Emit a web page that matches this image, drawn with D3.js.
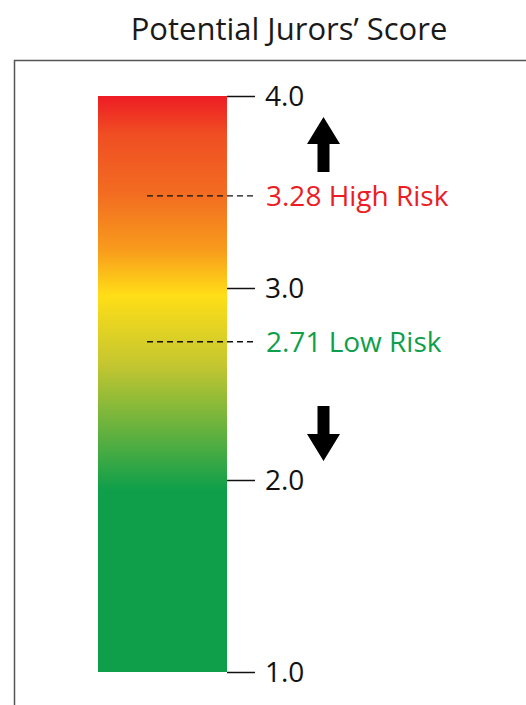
<!DOCTYPE html>
<html><head><meta charset="utf-8">
<script src="https://cdn.jsdelivr.net/npm/d3@7/dist/d3.min.js"></script>
<style>html,body{margin:0;padding:0;background:#fff;}svg{display:block;}</style>
</head><body>
<script>
const title = "Potential Jurors’ Score";
const tickValues = [4.0, 3.0, 2.0, 1.0];
const tickLabels = ["4.0", "3.0", "2.0", "1.0"];
const markerPositions = [3.48, 2.72];
const markerLabels = ["3.28 High Risk", "2.71 Low Risk"];
const markerColors = ["#ED1C24", "#0F9F4B"];
const gradientValues = [4.0, 3.8, 3.5, 3.2, 2.96, 2.6, 1.95, 1.0];
const gradientColors = ["#ED1C24", "#F04E23", "#F26B21", "#F89B1C", "#FFDE17", "#C4C630", "#0F9F4B", "#0F9F4B"];
const arrowValues = [3.745, 2.245];
const arrowDirections = ["up", "down"];

const W = 526, H = 705;
const svg = d3.select("body").append("svg").attr("width", W).attr("height", H);
const font = "'Open Sans', 'Noto Sans', sans-serif";

const y = d3.scaleLinear().domain([1, 4]).range([672, 96]);
const barX0 = 98, barX1 = 227;

// frame
svg.append("path").attr("d", `M14.5,${H} V60.5 H${W}`).attr("fill", "none").attr("stroke", "#555").attr("stroke-width", 1.5);

// title
svg.append("text").attr("x", 289).attr("y", 40).attr("text-anchor", "middle")
  .attr("font-family", font).attr("font-size", 31).attr("fill", "#1a1a1a").text(title);

// gradient
const defs = svg.append("defs");
const grad = defs.append("linearGradient").attr("id", "g").attr("gradientUnits", "userSpaceOnUse")
  .attr("x1", 0).attr("x2", 0).attr("y1", y(4)).attr("y2", y(1));
grad.selectAll("stop").data(gradientValues).join("stop")
  .attr("offset", d => (y(d) - y(4)) / (y(1) - y(4)))
  .attr("stop-color", (d, i) => gradientColors[i]);

svg.append("rect").attr("x", barX0).attr("y", y(4)).attr("width", barX1 - barX0)
  .attr("height", y(1) - y(4)).attr("fill", "url(#g)");

// axis
const axis = d3.axisRight(y).tickValues(tickValues).tickSize(28).tickPadding(10)
  .tickFormat((d, i) => tickLabels[i]);
const ax = svg.append("g").attr("transform", `translate(${barX1},0)`).call(axis);
ax.select(".domain").remove();
ax.selectAll("line").attr("stroke", "#111").attr("stroke-width", 1.5);
ax.selectAll("text").attr("font-family", font).attr("font-size", 28).attr("fill", "#111").attr("dy", "0.35em");

// markers
const mk = svg.append("g").selectAll("g").data(markerPositions).join("g");
mk.append("line").attr("x1", 147).attr("x2", 255).attr("y1", d => y(d)).attr("y2", d => y(d))
  .attr("stroke", "#111").attr("stroke-width", 1.3).attr("stroke-dasharray", "6,4");
mk.append("text").attr("x", 266).attr("y", d => y(d)).attr("dy", "0.35em")
  .attr("font-family", font).attr("font-size", 28).attr("fill", (d, i) => markerColors[i])
  .text((d, i) => markerLabels[i]);

// arrows
const ax0 = 323.5;
svg.append("g").selectAll("path").data(arrowValues).join("path")
  .attr("fill", "#000")
  .attr("d", (d, i) => {
    const c = y(d);
    const s = arrowDirections[i] === "up" ? -1 : 1;
    const tip = c + s * 28, headBase = c + s * 1, tail = c - s * 27;
    return `M${ax0 - 6},${tail} H${ax0 + 6} V${headBase} H${ax0 + 16.5} L${ax0},${tip} L${ax0 - 16.5},${headBase} H${ax0 - 6} Z`;
  });
</script>
</body></html>
